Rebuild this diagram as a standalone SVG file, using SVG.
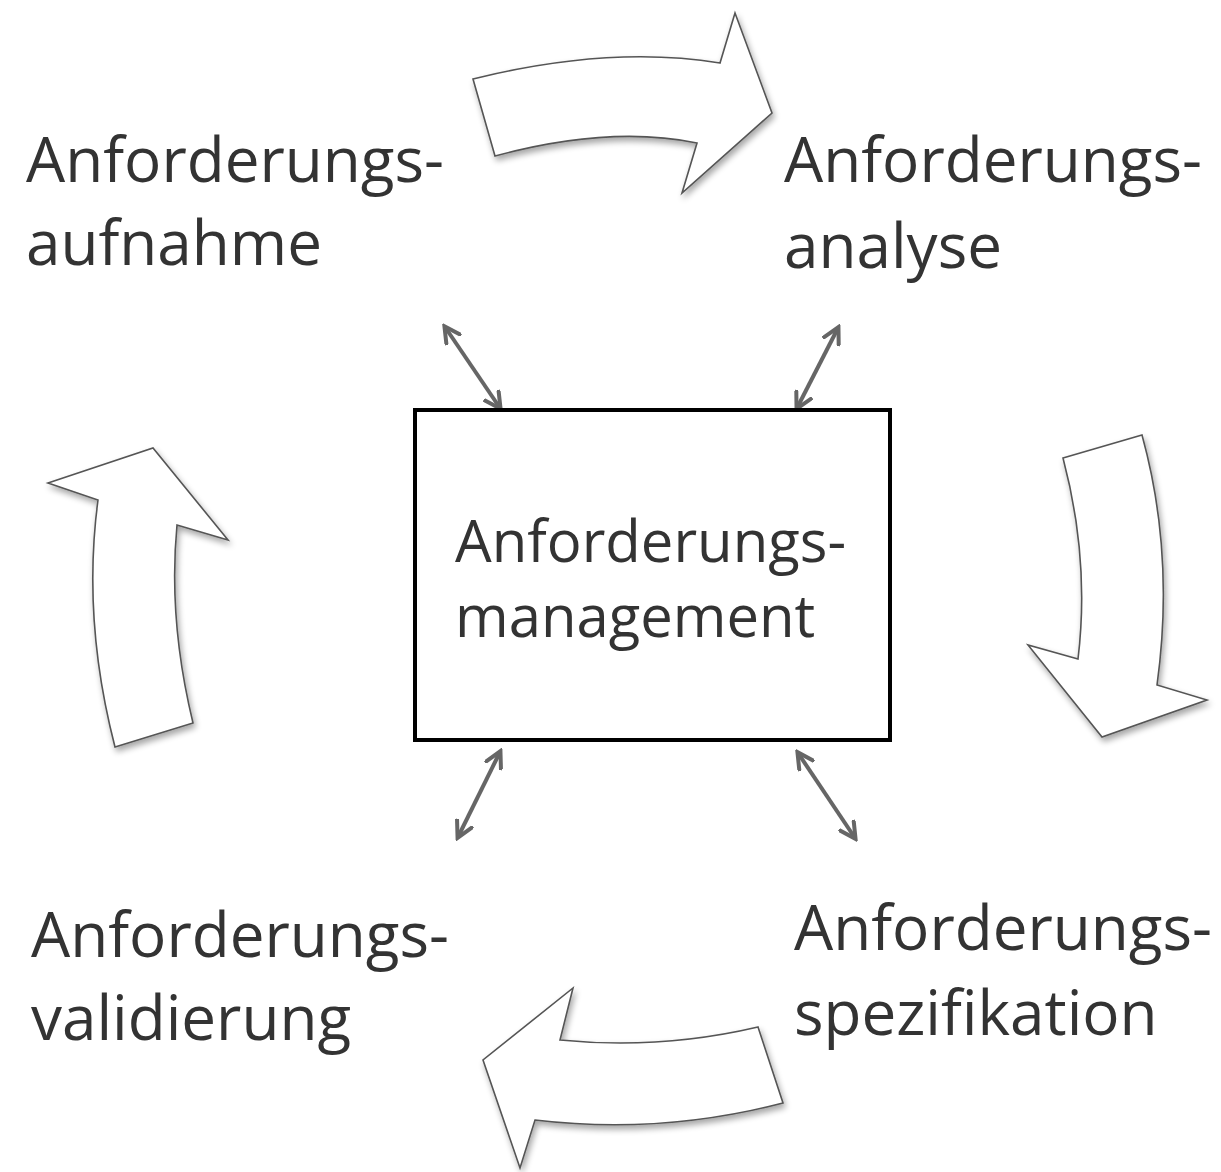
<svg xmlns="http://www.w3.org/2000/svg" width="1221" height="1172" viewBox="0 0 1221 1172">
  <defs>
    <filter id="soft" x="-20%" y="-20%" width="140%" height="140%">
      <feGaussianBlur in="SourceAlpha" stdDeviation="3"/>
      <feOffset dx="2" dy="4" result="b"/>
      <feComponentTransfer><feFuncA type="linear" slope="0.35"/></feComponentTransfer>
      <feMerge><feMergeNode/><feMergeNode in="SourceGraphic"/></feMerge>
    </filter>
    <marker id="tip" viewBox="0 0 10 10" refX="8" refY="5" markerWidth="5" markerHeight="5" orient="auto-start-reverse">
      <path d="M0,0.5 L8.5,5 L0,9.5" fill="none" stroke="#666" stroke-width="2"/>
    </marker>
  </defs>
  <style>
    .lbl { font-family: "Open Sans", "Liberation Sans", sans-serif; fill: #333; }
    .big { font-size: 62px; }
    .mid { font-size: 58px; }
    .cycle { fill: #fff; stroke: #555; stroke-width: 1.6; stroke-linejoin: miter; filter: url(#soft); }
    .link { stroke: #666; stroke-width: 4; fill: none; marker-start: url(#tip); marker-end: url(#tip); }
  </style>
  <rect width="1221" height="1172" fill="#fff"/>

  <!-- curved process arrows -->
  <g id="cycle-arrows">
    <path class="cycle" d="M473,79 Q610,45 720,63 L735,13 L772,113 L682,193 L697,143 Q610,125 495,156 Z"/>
    <path class="cycle" d="M1063,458 L1142,435 Q1175,555 1157,685 L1207,700 L1102,737 L1028,645 L1078,659 Q1090,560 1063,458 Z"/>
    <path class="cycle" d="M758,1027 L783,1103 Q660,1135 535,1120 L520,1168 L483,1060 L573,988 L560,1040 Q660,1050 758,1027 Z"/>
    <path class="cycle" d="M115,747 L193,723 Q168,620 177,525 L228,540 L153,448 L48,483 L98,500 Q82,620 115,747 Z"/>
  </g>

  <!-- links between the centre and the four phases -->
  <g id="connectors">
    <line class="link" x1="445" y1="327" x2="500" y2="408"/>
    <line class="link" x1="838" y1="328" x2="797" y2="408"/>
    <line class="link" x1="500" y1="752" x2="458" y2="837"/>
    <line class="link" x1="798" y1="753" x2="855" y2="838"/>
  </g>

  <g id="management">
    <rect x="415" y="410" width="475" height="330" fill="#fff" stroke="#000" stroke-width="4"/>
    <text class="lbl mid" x="455" y="562">Anforderungs-</text>
    <text class="lbl mid" x="455" y="637">management</text>
  </g>

  <g id="aufnahme">
    <text class="lbl big" x="26" y="182">Anforderungs-</text>
    <text class="lbl big" x="26" y="265">aufnahme</text>
  </g>

  <g id="analyse">
    <text class="lbl big" x="784" y="182">Anforderungs-</text>
    <text class="lbl big" x="784" y="268">analyse</text>
  </g>

  <g id="spezifikation">
    <text class="lbl big" x="794" y="950">Anforderungs-</text>
    <text class="lbl big" x="794" y="1035">spezifikation</text>
  </g>

  <g id="validierung">
    <text class="lbl big" x="31" y="957">Anforderungs-</text>
    <text class="lbl big" x="31" y="1040">validierung</text>
  </g>
</svg>
